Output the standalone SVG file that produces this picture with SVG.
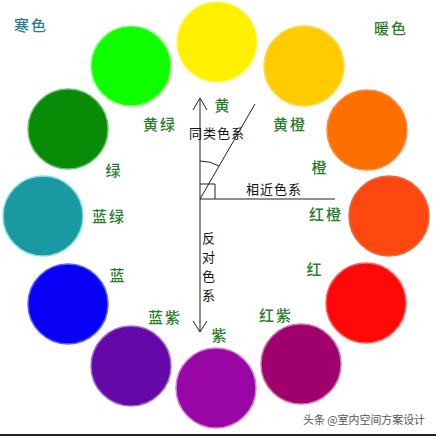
<svg xmlns="http://www.w3.org/2000/svg" width="436" height="436" viewBox="0 0 436 436">
<style>
.c{stroke-width:1.5}
.lb{font-family:"Noto Sans CJK SC","Noto Sans",sans-serif;font-size:15px;font-weight:500;fill:#2b7d2b;text-anchor:middle;dominant-baseline:central;letter-spacing:2px}
.bk{font-family:"Noto Sans CJK SC","Noto Sans",sans-serif;font-size:13px;fill:#111;text-anchor:middle;dominant-baseline:central;letter-spacing:1px}
.ln{stroke:#222;stroke-width:1;fill:none}
.wm{font-family:"Noto Sans CJK SC","Noto Sans",sans-serif;font-size:11px;fill:#555}
</style>
<rect width="436" height="436" fill="#fff"/>
<g id="yellow"><circle cx="217" cy="42" r="40" fill="#fff000" stroke="#fff566" class="c"/><text class="lb" x="223" y="104">黄</text></g>
<g id="yellow-orange"><circle cx="304" cy="66" r="40" fill="#ffcc00" stroke="#ffd84d" class="c"/><text class="lb" x="290" y="123">黄橙</text></g>
<g id="orange"><circle cx="367" cy="130" r="40" fill="#ff6f00" stroke="#f0904d" class="c"/><text class="lb" x="320" y="166">橙</text></g>
<g id="red-orange"><circle cx="389" cy="216" r="40" fill="#ff4810" stroke="#e0704a" class="c"/><text class="lb" x="326" y="213">红橙</text></g>
<g id="red"><circle cx="366" cy="303" r="40" fill="#ff0808" stroke="#ff6060" class="c"/><text class="lb" x="315" y="268">红</text></g>
<g id="red-purple"><circle cx="301" cy="364" r="40" fill="#a0006c" stroke="#d070b0" class="c"/><text class="lb" x="276" y="314">红紫</text></g>
<g id="purple"><circle cx="216" cy="388" r="40" fill="#9a05a6" stroke="#d080d8" class="c"/><text class="lb" x="220" y="334">紫</text></g>
<g id="blue-purple"><circle cx="131" cy="366" r="40" fill="#6508a8" stroke="#a070d0" class="c"/><text class="lb" x="165" y="316">蓝紫</text></g>
<g id="blue"><circle cx="68" cy="304" r="40" fill="#0800f4" stroke="#6060ff" class="c"/><text class="lb" x="118" y="274">蓝</text></g>
<g id="teal"><circle cx="43" cy="216" r="40" fill="#1a99a2" stroke="#80e0e0" class="c"/><text class="lb" x="109" y="215">蓝绿</text></g>
<g id="green"><circle cx="68" cy="129" r="40" fill="#088c08" stroke="#70c070" class="c"/><text class="lb" x="114" y="169">绿</text></g>
<g id="yellow-green"><circle cx="131" cy="66" r="40" fill="#10ff00" stroke="#90ff80" class="c"/><text class="lb" x="160" y="123">黄绿</text></g>
<g id="cold"><text class="lb" x="31" y="24" style="fill:#1f7f88">寒色</text></g>
<g id="warm"><text class="lb" x="391" y="27">暖色</text></g>
<g id="connectors">
<line class="ln" x1="200" y1="98" x2="200" y2="332"/>
<polyline class="ln" points="193,110 200,98 207,110"/>
<polyline class="ln" points="193,321 200,332 207,321"/>
<line class="ln" x1="200" y1="199" x2="335" y2="199"/>
<line class="ln" x1="200" y1="199" x2="255" y2="104"/>
<polyline class="ln" points="200,184 215,184 215,199"/>
<path class="ln" d="M200,161 A38,38 0 0 1 219,166"/>
</g>
<g id="labels">
<text class="bk" x="217" y="132">同类色系</text>
<text class="bk" x="274" y="188">相近色系</text>
<text class="bk" x="209" y="237">反</text>
<text class="bk" x="209" y="256">对</text>
<text class="bk" x="209" y="275">色</text>
<text class="bk" x="209" y="294">系</text>
</g>
<text class="wm" x="303" y="424" textLength="122" lengthAdjust="spacingAndGlyphs">头条 @室内空间方案设计</text>
<rect x="0" y="434" width="436" height="2" fill="#222"/>
</svg>
